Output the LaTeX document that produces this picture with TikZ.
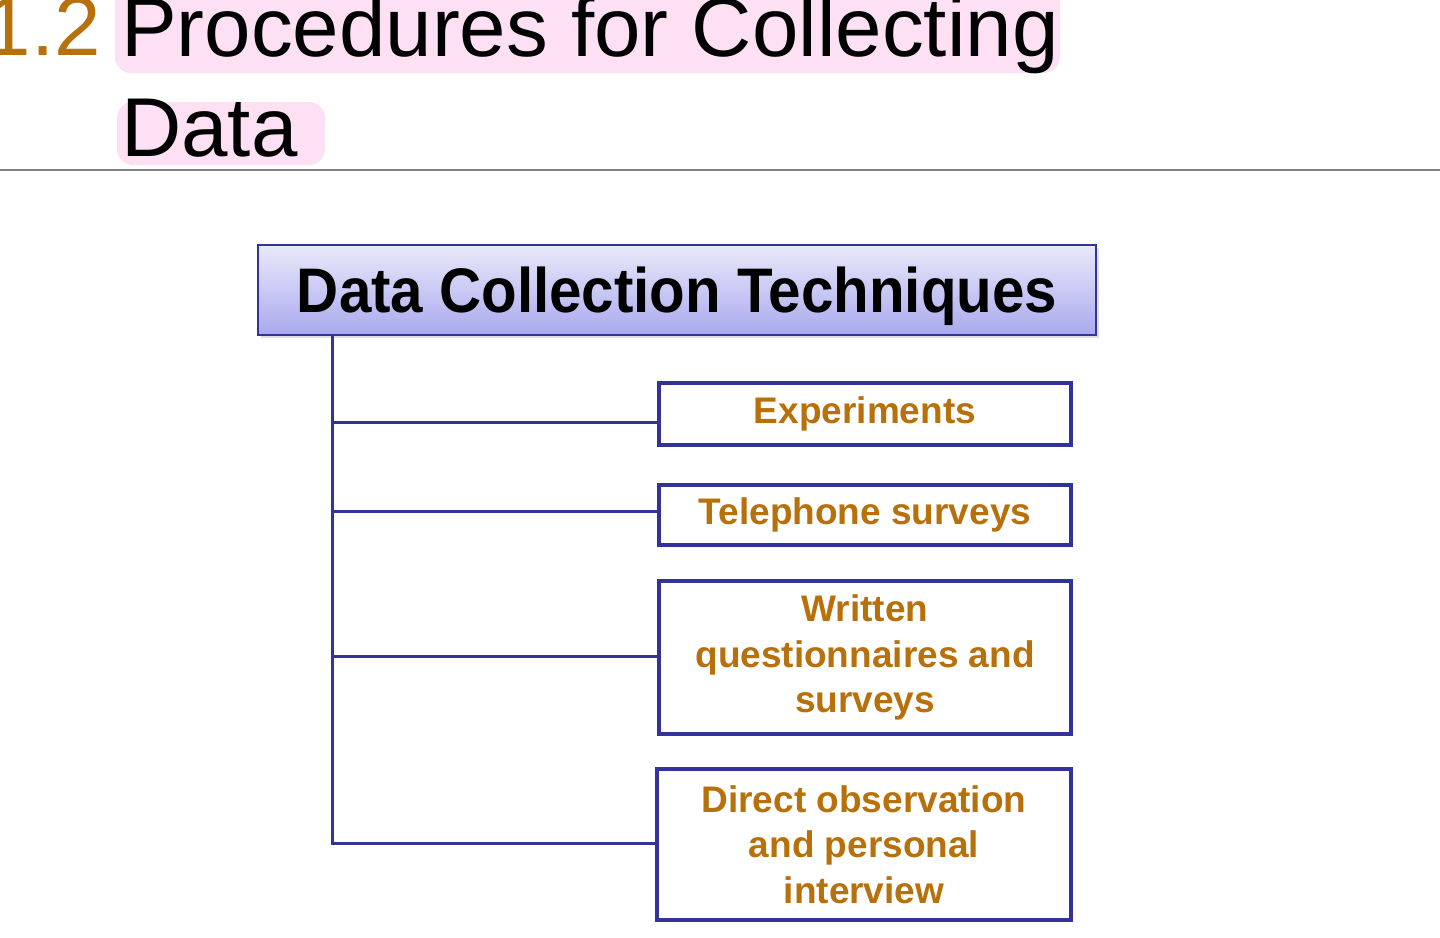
\documentclass[tikz,border=0pt]{standalone}
\usepackage{fontspec}
\setmainfont{Liberation Sans}
\usetikzlibrary{shadows}
\definecolor{navy}{HTML}{333399}
\definecolor{ochre}{HTML}{B8700A}
\definecolor{pinkhl}{HTML}{FDE0F3}
\definecolor{hdrtop}{HTML}{E9E9FA}
\definecolor{hdrbot}{HTML}{A9A9EE}
\tikzset{
  titletext/.style={inner sep=0pt, font=\fontsize{83.5}{98}\selectfont},
  hdrbox/.style={draw=navy, line width=1.8pt, top color=hdrtop, bottom color=hdrbot,
    minimum width=838pt, inner sep=0pt, text height=67pt, text depth=23pt,
    font=\bfseries\fontsize{58.3}{70}\selectfont,
    drop shadow={shadow xshift=3pt, shadow yshift=-3pt, opacity=0.25}},
  leaf/.style={draw=navy, line width=3.6pt, fill=white, text=ochre, align=center,
    inner sep=0pt, minimum width=412pt,
    font=\bfseries\fontsize{37}{45.5}\selectfont},
  conn/.style={draw=navy, line width=3pt},
}
\begin{document}
\begin{tikzpicture}[x=1pt,y=-1pt]
\useasboundingbox (0,0) rectangle (1440,937);
% title highlights
\fill[pinkhl, rounded corners=16pt] (115,-20) rectangle (1060,73);
\fill[pinkhl, rounded corners=16pt] (117,102) rectangle (325,165);
\node[titletext, anchor=base east, text=ochre] (num) at (101,55) {1.2};
\node[titletext, anchor=base west] (t1) at (121,56) {Procedures for Collecting};
\node[titletext, anchor=base west] (t2) at (121,156) {Data};
\draw[gray, line width=1.5pt] (0,170) -- (1440,170);
% header
\node[hdrbox] (hdr) at (677,290) {\scalebox{1}[1.08]{Data Collection Techniques}};
% leaves
\node[leaf, minimum height=62pt] (b1) at (865,414) {Experiments};
\node[leaf, minimum height=60pt] (b2) at (865,515) {Telephone surveys};
\node[leaf, minimum height=153pt] (b3) at (865,657.5) {Written\\questionnaires and\\surveys};
\node[leaf, minimum height=151pt, minimum width=414pt] (b4) at (864,844.5) {Direct observation\\and personal\\interview};
% connectors
\coordinate (tk) at ([xshift=75pt]hdr.south west);
\draw[conn] (tk) |- ([yshift=1.5pt]b4.west);
\draw[conn] ([yshift=-8pt]b1.west) -- ([yshift=-8pt]b1.west -| tk);
\draw[conn] ([yshift=4pt]b2.west) -- ([yshift=4pt]b2.west -| tk);
\draw[conn] ([yshift=1.5pt]b3.west) -- ([yshift=1.5pt]b3.west -| tk);
\end{tikzpicture}
\end{document}
